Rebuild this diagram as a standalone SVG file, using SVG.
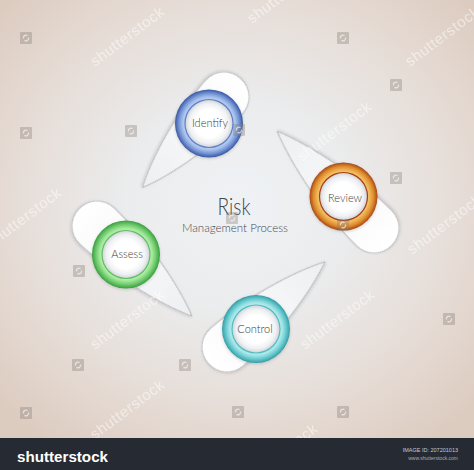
<svg xmlns="http://www.w3.org/2000/svg" width="474" height="470" viewBox="0 0 474 470">
<defs>
<style>
.drop{stroke:#b2b3b8;stroke-width:0.9;fill:url(#dropFill);filter:url(#sh)}
.lbl{font-family:Lato,"Open Sans","Liberation Sans",sans-serif;font-weight:300;font-size:11px;fill:#3a3a3c;text-anchor:middle}
.wm{font-family:"Liberation Sans",Arial,sans-serif;font-size:15px;fill:#ffffff;opacity:0.5}
.ico{fill:#857a74;opacity:0.35}
.inner{fill:url(#innerFill)}
</style>
<radialGradient id="bg" cx="0.5" cy="0.47" r="0.68">
<stop offset="0" stop-color="#eff2f5"/>
<stop offset="0.35" stop-color="#ebeced"/>
<stop offset="0.7" stop-color="#e6dcd6"/>
<stop offset="1" stop-color="#dccbbf"/>
</radialGradient>
<linearGradient id="dropFill" x1="0" y1="0" x2="1" y2="0">
<stop offset="0" stop-color="#ffffff"/>
<stop offset="1" stop-color="#eeeff2"/>
</linearGradient>
<radialGradient id="innerFill" cx="0.5" cy="0.5" r="0.5">
<stop offset="0" stop-color="#ffffff"/>
<stop offset="0.6" stop-color="#ffffff"/>
<stop offset="0.85" stop-color="#eff0f2"/>
<stop offset="1" stop-color="#d3d6dc"/>
</radialGradient>
<radialGradient id="rBlue" cx="0.5" cy="0.5" r="0.5">
<stop offset="0.68" stop-color="#c2d4f4"/>
<stop offset="0.78" stop-color="#a7c0ec"/>
<stop offset="0.89" stop-color="#7192d3"/>
<stop offset="0.97" stop-color="#4866b0"/>
<stop offset="1" stop-color="#3c589e"/>
</radialGradient>
<radialGradient id="rOrange" cx="0.5" cy="0.5" r="0.5">
<stop offset="0.68" stop-color="#f6cc80"/>
<stop offset="0.78" stop-color="#efb453"/>
<stop offset="0.89" stop-color="#dc8a2c"/>
<stop offset="0.97" stop-color="#b8581c"/>
<stop offset="1" stop-color="#a04a16"/>
</radialGradient>
<radialGradient id="rGreen" cx="0.5" cy="0.5" r="0.5">
<stop offset="0.68" stop-color="#c4f2bc"/>
<stop offset="0.78" stop-color="#a2e69a"/>
<stop offset="0.89" stop-color="#6cc96a"/>
<stop offset="0.97" stop-color="#46aa4b"/>
<stop offset="1" stop-color="#3a9a40"/>
</radialGradient>
<radialGradient id="rTeal" cx="0.5" cy="0.5" r="0.5">
<stop offset="0.68" stop-color="#c2f0f0"/>
<stop offset="0.78" stop-color="#a2e4e6"/>
<stop offset="0.89" stop-color="#66c8cd"/>
<stop offset="0.97" stop-color="#40a9b1"/>
<stop offset="1" stop-color="#359aa2"/>
</radialGradient>
<filter id="sh" x="-30%" y="-30%" width="160%" height="160%">
<feDropShadow dx="0" dy="1" stdDeviation="1.5" flood-color="#000" flood-opacity="0.18"/>
</filter>
<symbol id="wmIcon" viewBox="0 0 12 12">
<rect x="0" y="0" width="12" height="12" rx="1" class="ico"/>
<path d="M3.5 6.5 A2.6 2.6 0 0 1 7.5 3.6 M8.5 5.5 A2.6 2.6 0 0 1 4.5 8.4" fill="none" stroke="#ffffff" stroke-width="1.3" opacity="0.6"/>
</symbol>
</defs>

<g id="background">
<rect x="0" y="0" width="474" height="438" fill="url(#bg)"/>
</g>

<g id="connectors">
<path class="drop" transform="translate(224,97) rotate(132)" d="M122 0 C91.5 -14 42.7 -25 0 -25 A25 25 0 0 0 0 25 C42.7 25 91.5 14 122 0 Z"/>
<path class="drop" transform="translate(374,228) rotate(225)" d="M137 0 C102.75 -14 47.95 -25 0 -25 A25 25 0 0 0 0 25 C47.95 25 102.75 14 137 0 Z"/>
<path class="drop" transform="translate(97,226) rotate(43.5)" d="M131 0 C98.25 -14 45.85 -25 0 -25 A25 25 0 0 0 0 25 C45.85 25 98.25 14 131 0 Z"/>
<path class="drop" transform="translate(227,347) rotate(-41)" d="M130 0 C97.5 -14 45.5 -25 0 -25 A25 25 0 0 0 0 25 C45.5 25 97.5 14 130 0 Z"/>
</g>

<g id="node-identify">
<circle cx="209" cy="123.5" r="34" fill="url(#rBlue)" filter="url(#sh)"/>
<circle cx="209" cy="123.5" r="24.6" fill="#5d7fc4"/>
<circle cx="209" cy="123.5" r="23.4" class="inner"/>
<text class="lbl" x="210" y="126.5">Identify</text>
</g>

<g id="node-review">
<circle cx="343.5" cy="196.5" r="34" fill="url(#rOrange)" filter="url(#sh)"/>
<circle cx="343.5" cy="196.5" r="24.6" fill="#a53c18"/>
<circle cx="343.5" cy="196.5" r="23.4" class="inner"/>
<text class="lbl" x="345" y="201.5">Review</text>
</g>

<g id="node-assess">
<circle cx="126" cy="254.5" r="34" fill="url(#rGreen)" filter="url(#sh)"/>
<circle cx="126" cy="254.5" r="24.6" fill="#5dbf60"/>
<circle cx="126" cy="254.5" r="23.4" class="inner"/>
<text class="lbl" x="127" y="258">Assess</text>
</g>

<g id="node-control">
<circle cx="256" cy="329" r="34" fill="url(#rTeal)" filter="url(#sh)"/>
<circle cx="256" cy="329" r="24.6" fill="#52bcc3"/>
<circle cx="256" cy="329" r="23.4" class="inner"/>
<text class="lbl" x="255" y="333">Control</text>
</g>

<g id="title">
<text x="234" y="215" font-family="Lato,'Open Sans','Liberation Sans',sans-serif" font-weight="300" font-size="24" fill="#43464b" text-anchor="middle" textLength="33" lengthAdjust="spacingAndGlyphs">Risk</text>
<text x="235" y="232" font-family="Lato,'Open Sans','Liberation Sans',sans-serif" font-weight="300" font-size="11" fill="#46494e" text-anchor="middle" textLength="106" lengthAdjust="spacingAndGlyphs">Management Process</text>
</g>

<g id="watermark">
<text class="wm" transform="translate(95,67) rotate(-37)" textLength="88">shutterstock</text>
<text class="wm" transform="translate(252,24) rotate(-37)" textLength="88">shutterstock</text>
<text class="wm" transform="translate(410,67) rotate(-37)" textLength="88">shutterstock</text>
<text class="wm" transform="translate(302,162) rotate(-37)" textLength="88">shutterstock</text>
<text class="wm" transform="translate(-8,248) rotate(-37)" textLength="88">shutterstock</text>
<text class="wm" transform="translate(412,255) rotate(-37)" textLength="88">shutterstock</text>
<text class="wm" transform="translate(95,350) rotate(-37)" textLength="88">shutterstock</text>
<text class="wm" transform="translate(305,350) rotate(-37)" textLength="88">shutterstock</text>
<text class="wm" transform="translate(95,440) rotate(-37)" textLength="88">shutterstock</text>
<text class="wm" transform="translate(248,484) rotate(-37)" textLength="88">shutterstock</text>
<use href="#wmIcon" x="20" y="32" width="12" height="12"/>
<use href="#wmIcon" x="337" y="32" width="12" height="12"/>
<use href="#wmIcon" x="390" y="79" width="12" height="12"/>
<use href="#wmIcon" x="125" y="125" width="12" height="12"/>
<use href="#wmIcon" x="233" y="124" width="12" height="12"/>
<use href="#wmIcon" x="20" y="127" width="12" height="12"/>
<use href="#wmIcon" x="390" y="172" width="12" height="12"/>
<use href="#wmIcon" x="337" y="219" width="12" height="12"/>
<use href="#wmIcon" x="226" y="212" width="12" height="12"/>
<use href="#wmIcon" x="73" y="265" width="12" height="12"/>
<use href="#wmIcon" x="443" y="313" width="12" height="12"/>
<use href="#wmIcon" x="72" y="359" width="12" height="12"/>
<use href="#wmIcon" x="179" y="359" width="12" height="12"/>
<use href="#wmIcon" x="20" y="407" width="12" height="12"/>
<use href="#wmIcon" x="232" y="406" width="12" height="12"/>
<use href="#wmIcon" x="337" y="406" width="12" height="12"/>
</g>

<g id="footer">
<rect x="0" y="438" width="474" height="32" fill="#262a32"/>
<text x="17" y="462" font-family="'Liberation Sans',Arial,sans-serif" font-weight="bold" font-size="15.5" fill="#ffffff" textLength="91" lengthAdjust="spacingAndGlyphs">shutterstock</text>
<text x="458" y="452" font-family="'Liberation Sans',Arial,sans-serif" font-size="5.5" fill="#c8cbd0" text-anchor="end">IMAGE ID: 207201013</text>
<text x="458" y="460" font-family="'Liberation Sans',Arial,sans-serif" font-size="5" fill="#a8acb2" text-anchor="end">www.shutterstock.com</text>
</g>
</svg>
